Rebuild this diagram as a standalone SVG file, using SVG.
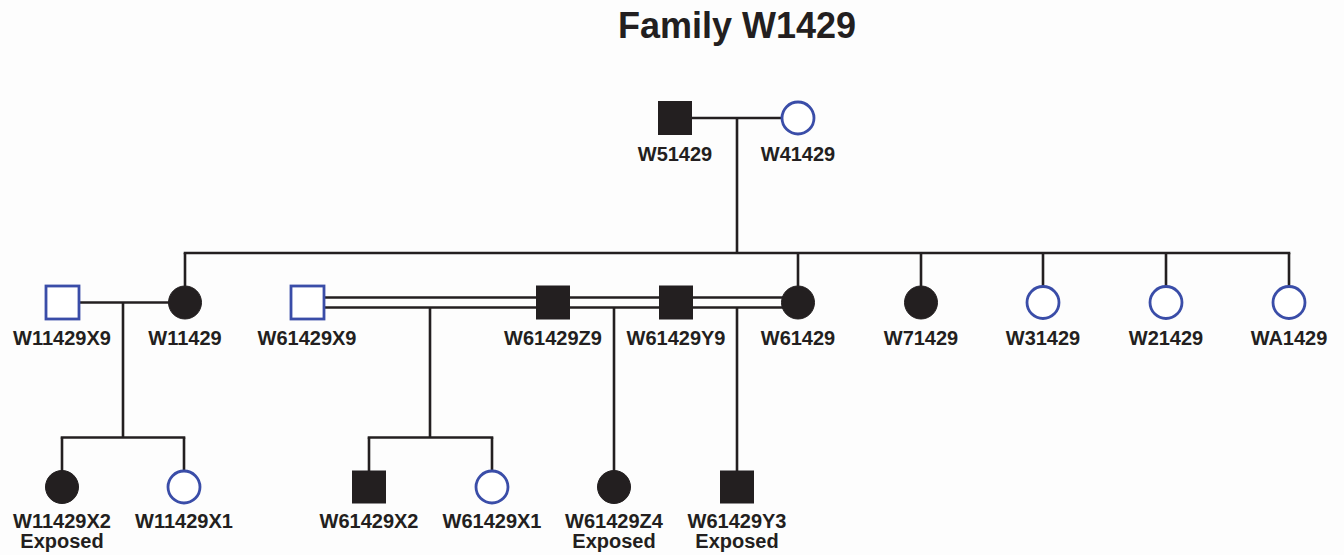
<svg xmlns="http://www.w3.org/2000/svg" width="1344" height="555" viewBox="0 0 1344 555">
<style>
.bg{fill:#fdfdfd}
.ln{stroke:#231f20;stroke-width:2.6;fill:none}
.aff{fill:#231f20;stroke:#231f20;stroke-width:1}
.unaff{fill:#ffffff;stroke:#3a4da8;stroke-width:2.8}
.lbl{font-family:"Liberation Sans",Arial,sans-serif;font-weight:bold;font-size:20px;fill:#231f20;text-anchor:middle}
.title{font-family:"Liberation Sans",Arial,sans-serif;font-weight:bold;font-size:36px;fill:#231f20;text-anchor:middle}
</style>
<rect class="bg" x="0" y="0" width="1344" height="555"/>
<text class="title" x="737" y="38">Family W1429</text>
<g id="connectors">
<line class="ln" x1="692" y1="118" x2="782" y2="118"/>
<line class="ln" x1="737" y1="118" x2="737" y2="253"/>
<line class="ln" x1="183.7" y1="253" x2="1290.3" y2="253"/>
<line class="ln" x1="185" y1="253" x2="185" y2="286"/>
<line class="ln" x1="798" y1="253" x2="798" y2="286"/>
<line class="ln" x1="921" y1="253" x2="921" y2="286"/>
<line class="ln" x1="1043" y1="253" x2="1043" y2="286"/>
<line class="ln" x1="1166" y1="253" x2="1166" y2="286"/>
<line class="ln" x1="1289" y1="253" x2="1289" y2="286"/>
<line class="ln" x1="79" y1="302.5" x2="169" y2="302.5"/>
<line class="ln" x1="123" y1="302.5" x2="123" y2="437.5"/>
<line class="ln" x1="324" y1="297.5" x2="783" y2="297.5"/>
<line class="ln" x1="324" y1="307.5" x2="783" y2="307.5"/>
<line class="ln" x1="430" y1="307.5" x2="430" y2="437.5"/>
<line class="ln" x1="614" y1="307.5" x2="614" y2="471"/>
<line class="ln" x1="737" y1="307.5" x2="737" y2="471"/>
<line class="ln" x1="60.7" y1="437.5" x2="185.3" y2="437.5"/>
<line class="ln" x1="62" y1="437.5" x2="62" y2="471"/>
<line class="ln" x1="184" y1="437.5" x2="184" y2="471"/>
<line class="ln" x1="367.7" y1="437.5" x2="493.3" y2="437.5"/>
<line class="ln" x1="369" y1="437.5" x2="369" y2="471"/>
<line class="ln" x1="492" y1="437.5" x2="492" y2="471"/>
</g>
<g id="W51429"><rect class="aff" x="658.5" y="101.5" width="33" height="33"/><text class="lbl" x="675" y="161">W51429</text></g>
<g id="W41429"><circle class="unaff" cx="798" cy="118" r="16"/><text class="lbl" x="798" y="161">W41429</text></g>
<g id="W11429X9"><rect class="unaff" x="46" y="286" width="33" height="33"/><text class="lbl" x="62" y="345">W11429X9</text></g>
<g id="W11429"><circle class="aff" cx="185" cy="302.5" r="16.5"/><text class="lbl" x="185" y="345">W11429</text></g>
<g id="W61429X9"><rect class="unaff" x="291" y="286" width="33" height="33"/><text class="lbl" x="307" y="345">W61429X9</text></g>
<g id="W61429Z9"><rect class="aff" x="536.5" y="286" width="33" height="33"/><text class="lbl" x="553" y="345">W61429Z9</text></g>
<g id="W61429Y9"><rect class="aff" x="659.5" y="286" width="33" height="33"/><text class="lbl" x="676" y="345">W61429Y9</text></g>
<g id="W61429"><circle class="aff" cx="798" cy="302.5" r="16.5"/><text class="lbl" x="798" y="345">W61429</text></g>
<g id="W71429"><circle class="aff" cx="921" cy="302.5" r="16.5"/><text class="lbl" x="921" y="345">W71429</text></g>
<g id="W31429"><circle class="unaff" cx="1043" cy="302.5" r="16"/><text class="lbl" x="1043" y="345">W31429</text></g>
<g id="W21429"><circle class="unaff" cx="1166" cy="302.5" r="16"/><text class="lbl" x="1166" y="345">W21429</text></g>
<g id="WA1429"><circle class="unaff" cx="1289" cy="302.5" r="16"/><text class="lbl" x="1289" y="345">WA1429</text></g>
<g id="W11429X2"><circle class="aff" cx="62" cy="487" r="16.5"/><text class="lbl" x="62" y="528">W11429X2</text><text class="lbl" x="62" y="548">Exposed</text></g>
<g id="W11429X1"><circle class="unaff" cx="184" cy="487" r="16"/><text class="lbl" x="184" y="528">W11429X1</text></g>
<g id="W61429X2"><rect class="aff" x="352.5" y="471" width="33" height="32"/><text class="lbl" x="369" y="528">W61429X2</text></g>
<g id="W61429X1"><circle class="unaff" cx="492" cy="487" r="16"/><text class="lbl" x="492" y="528">W61429X1</text></g>
<g id="W61429Z4"><circle class="aff" cx="614" cy="487" r="16.5"/><text class="lbl" x="614" y="528">W61429Z4</text><text class="lbl" x="614" y="548">Exposed</text></g>
<g id="W61429Y3"><rect class="aff" x="720.5" y="471" width="33" height="32"/><text class="lbl" x="737" y="528">W61429Y3</text><text class="lbl" x="737" y="548">Exposed</text></g>
</svg>
